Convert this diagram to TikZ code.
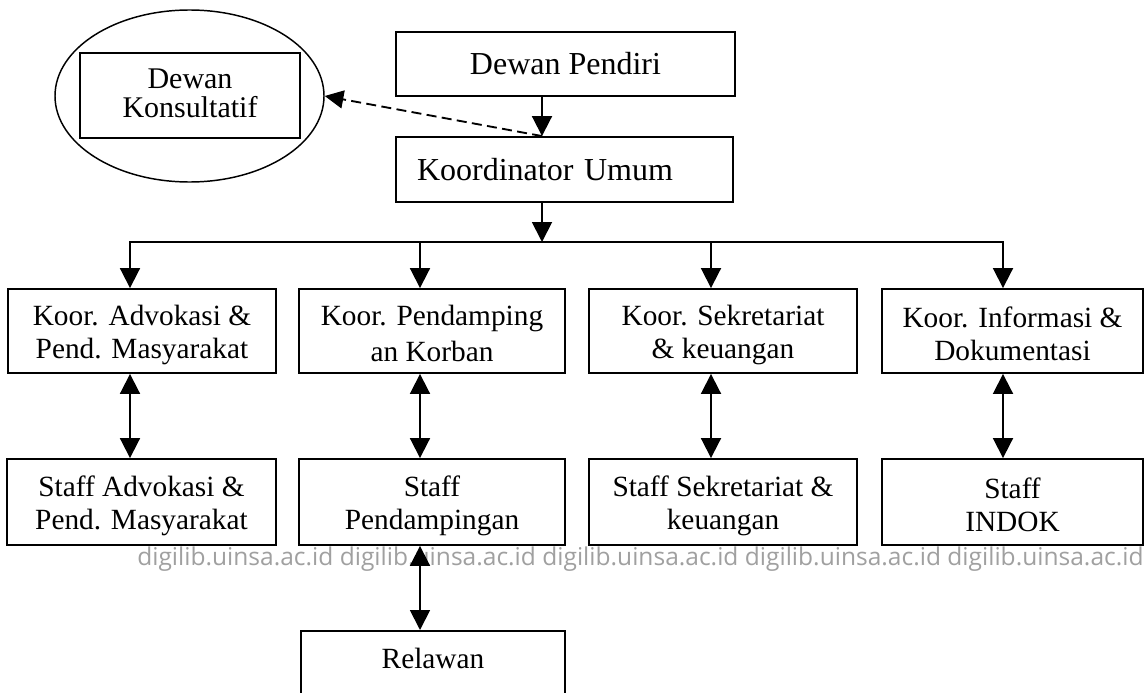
\documentclass[tikz,border=0pt]{standalone}
\usepackage{fontspec}
\setmainfont{Liberation Serif}
\newfontfamily\wmfont{Open Sans}
\usetikzlibrary{arrows.meta,shapes.geometric}
\definecolor{wmgray}{RGB}{160,160,160}
\newcommand\pxu{0.75pt}
\newcommand\kst{\rule[-2.25pt]{0pt}{23.25pt}}
\newcommand\dst{\rule[-4.5pt]{0pt}{20.25pt}}
\begin{document}
\begin{tikzpicture}[x=0.75pt,y=-0.75pt,
 box/.style={draw,line width=1.4pt,inner sep=0pt,align=center,font=\fontsize{22}{24.75}\selectfont},
 kbox/.style={box,minimum height=84*\pxu},
 sbox/.style={box,minimum height=86*\pxu},
 conn/.style={line width=1.4pt},
 arr/.style={conn,-{Triangle[length=15pt,width=15pt]}},
 dbl/.style={conn,{Triangle[length=15pt,width=15pt]}-{Triangle[length=15pt,width=15pt]}},
 darr/.style={line width=1.4pt,dash pattern=on 7.5pt off 4pt,-{Triangle[length=14pt,width=13.5pt]}}
]
\clip (0,0) rectangle (1145,692);
\fill[white] (0,0) rectangle (1145,692);

% top
\node[draw,ellipse,line width=1.1pt,minimum width=269*\pxu,minimum height=172*\pxu,inner sep=0pt] (ell) at (189.5,96) {};
\node[box,minimum width=220*\pxu,minimum height=85*\pxu,font=\fontsize{22.5}{21}\selectfont] (dk) at (190,95.5) {\dst Dewan\\\dst Konsultatif};
\node[box,minimum width=339*\pxu,minimum height=64*\pxu,font=\fontsize{24}{28}\selectfont] (dp) at (565.5,64) {Dewan Pendiri};
\node[box,minimum height=65*\pxu,text width=295*\pxu,align=left,inner xsep=21*\pxu,font=\fontsize{24}{28}\selectfont] (ku) at (564.5,169.5) {Koordinator Umum};

% koor row
\node[kbox,minimum width=268*\pxu] (k1) at (142,331) {\kst Koor. Advokasi \&\\\kst Pend. Masyarakat};
\node[kbox,minimum width=266*\pxu] (k2) at (432,331) {\kst Koor. Pendamping\\\kst an Korban};
\node[kbox,minimum width=268*\pxu] (k3) at (723,331) {\kst Koor. Sekretariat\\\kst \& keuangan};
\node[kbox,minimum width=261*\pxu] (k4) at (1012.5,331) {\kst Koor. Informasi \&\\\kst Dokumentasi};

% staff row
\node[sbox,minimum width=269*\pxu] (s1) at (141.5,502) {\kst Staff Advokasi \&\\\kst Pend. Masyarakat};
\node[sbox,minimum width=266*\pxu] (s2) at (432,502) {\kst Staff\\\kst Pendampingan};
\node[sbox,minimum width=268*\pxu] (s3) at (723,502) {\kst Staff Sekretariat \&\\\kst keuangan};
\node[sbox,minimum width=261*\pxu] (s4) at (1012.5,502) {\kst Staff\\\kst INDOK};

% relawan
\node[box,anchor=north,minimum width=264*\pxu,text height=20*\pxu,text depth=45*\pxu,inner ysep=18*\pxu] (rel) at (433,630) {Relawan};

% watermark
\node[anchor=base west,inner sep=0pt,font=\wmfont\fontsize{18.4}{20}\selectfont,text=wmgray] (wm) at (137,565) {digilib.uinsa.ac.id digilib.uinsa.ac.id digilib.uinsa.ac.id digilib.uinsa.ac.id digilib.uinsa.ac.id};

% connectors
\coordinate (bar) at (542,242);
\coordinate (j1) at (130,242);
\coordinate (j2) at (420,242);
\coordinate (j3) at (711,242);
\coordinate (j4) at (1003,242);

\draw[arr] (dp.south -| bar) -- (ku.north -| bar);
\draw[arr] (ku.south -| bar) -- (bar);
\draw[conn,line cap=rect] (j1) -- (j4);
\foreach \i in {1,...,4} {
  \draw[arr] (j\i) -- (j\i |- k\i.north);
  \draw[dbl] (j\i |- k\i.south) -- (j\i |- s\i.north);
}
\draw[dbl] (j2 |- s2.south) -- (j2 |- rel.north);
\draw[darr] (ku.north -| bar) -- (ell.east);
\end{tikzpicture}
\end{document}
